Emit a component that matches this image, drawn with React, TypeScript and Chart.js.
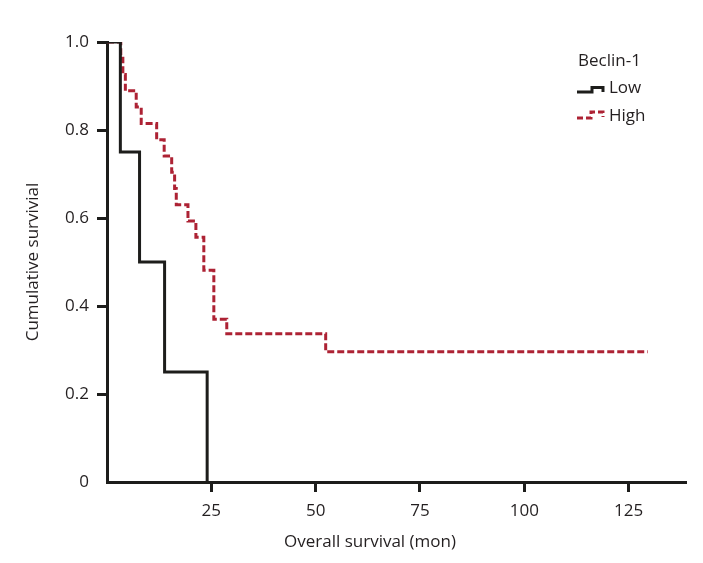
import React, { useEffect, useRef } from "react";
import { Chart, registerables } from "chart.js";

Chart.register(...registerables);

const lowTimes = [0, 3.2, 7.8, 13.8, 24.0];
const lowSurvival = [1, 0.75, 0.5, 0.25, 0];
const highTimes = [0, 3.3, 3.8, 4.4, 7.0, 8.2, 11.9, 13.7, 15.5, 16.2, 16.6, 19.4, 21.3, 23.2, 25.6, 28.7, 52.4, 129.6];
const highSurvival = [1, 0.963, 0.926, 0.889, 0.852, 0.815, 0.778, 0.741, 0.704, 0.667, 0.63, 0.593, 0.556, 0.481, 0.37, 0.337, 0.296, 0.296];
const xTicks = [25, 50, 75, 100, 125];
const yTicks = [0, 0.2, 0.4, 0.6, 0.8, 1.0];
const legendTitle = "Beclin-1";
const seriesNames = ["Low", "High"];
const xTitle = "Overall survival (mon)";
const yTitle = "Cumulative survivial";

const FONT = "'Open Sans', sans-serif";
const TEXT = "#231f20";
const BLACK = "#1d1d1b";
const RED = "#ad2234";

export default function App() {
  const ref = useRef<HTMLCanvasElement>(null);
  useEffect(() => {
    if (!ref.current) return;
    const legendPlugin = {
      id: "kmLegend",
      afterDraw(chart: any) {
        const ctx = chart.ctx;
        ctx.save();
        ctx.fillStyle = TEXT;
        ctx.font = `17px ${FONT}`;
        ctx.textBaseline = "middle";
        ctx.textAlign = "left";
        ctx.fillText(legendTitle, 578, 61);
        ctx.fillText(seriesNames[0], 609, 88);
        ctx.fillText(seriesNames[1], 609, 116);
        ctx.lineWidth = 3;
        ctx.strokeStyle = BLACK;
        ctx.setLineDash([]);
        ctx.beginPath();
        ctx.moveTo(577, 92);
        ctx.lineTo(592, 92);
        ctx.lineTo(592, 87.5);
        ctx.lineTo(603, 87.5);
        ctx.lineTo(603, 92);
        ctx.stroke();
        ctx.strokeStyle = RED;
        ctx.setLineDash([6, 3]);
        ctx.beginPath();
        ctx.moveTo(577, 118);
        ctx.lineTo(591, 118);
        ctx.lineTo(591, 112);
        ctx.lineTo(603, 112);
        ctx.lineTo(603, 117);
        ctx.stroke();
        ctx.setLineDash([]);
        ctx.textAlign = "center";
        ctx.fillText(xTitle, 370, 542);
        ctx.restore();
      },
    };
    const chart = new Chart(ref.current, {
      type: "line",
      data: {
        datasets: [
          {
            label: seriesNames[0],
            data: lowTimes.map((t, i) => ({ x: t, y: lowSurvival[i] })),
            borderColor: BLACK,
            borderWidth: 3,
            stepped: true,
            pointRadius: 0,
            fill: false,
          },
          {
            label: seriesNames[1],
            data: highTimes.map((t, i) => ({ x: t, y: highSurvival[i] })),
            borderColor: RED,
            borderWidth: 3,
            borderDash: [7, 3],
            stepped: true,
            pointRadius: 0,
            fill: false,
          },
        ],
      },
      plugins: [legendPlugin],
      options: {
        animation: false,
        responsive: false,
        maintainAspectRatio: false,
        layout: { padding: { left: 0, right: 18, top: 42, bottom: 0 } },
        plugins: { legend: { display: false }, tooltip: { enabled: false } },
        scales: {
          x: {
            type: "linear",
            min: 0,
            max: 138.5,
            afterFit: (s: any) => {
              s.height = 81;
            },
            afterBuildTicks: (s: any) => {
              s.ticks = [0, ...xTicks].map((v) => ({ value: v }));
            },
            ticks: {
              color: TEXT,
              font: { family: FONT, size: 17 },
              padding: 9,
              maxRotation: 0,
              callback: (v: any) => (v === 0 ? "" : String(v)),
            },
            grid: {
              drawOnChartArea: false,
              drawTicks: true,
              tickLength: 10,
              lineWidth: 3,
              color: (c: any) => (c.tick && c.tick.value === 0 ? "rgba(0,0,0,0)" : BLACK),
            },
            border: { display: true, width: 3, color: BLACK },
          },
          y: {
            type: "linear",
            min: 0,
            max: 1,
            afterFit: (s: any) => {
              s.width = 107;
            },
            afterBuildTicks: (s: any) => {
              s.ticks = yTicks.map((v) => ({ value: v }));
            },
            ticks: {
              color: TEXT,
              font: { family: FONT, size: 17 },
              padding: 8,
              callback: (v: any) => (v === 0 ? "0" : Number(v).toFixed(1)),
            },
            grid: {
              drawOnChartArea: false,
              drawTicks: true,
              tickLength: 10,
              lineWidth: 3,
              color: (c: any) => (c.tick && c.tick.value === 0 ? "rgba(0,0,0,0)" : BLACK),
            },
            border: { display: true, width: 3, color: BLACK },
            title: {
              display: true,
              text: yTitle,
              color: TEXT,
              font: { family: FONT, size: 17 },
              padding: { top: 23, bottom: 0 },
            },
          },
        },
      },
    });
    return () => chart.destroy();
  }, []);
  return (
    <div style={{ position: "fixed", left: 0, top: 0, width: 703, height: 563, background: "#fff" }}>
      <canvas ref={ref} width={703} height={563} style={{ width: 703, height: 563 }} />
    </div>
  );
}
